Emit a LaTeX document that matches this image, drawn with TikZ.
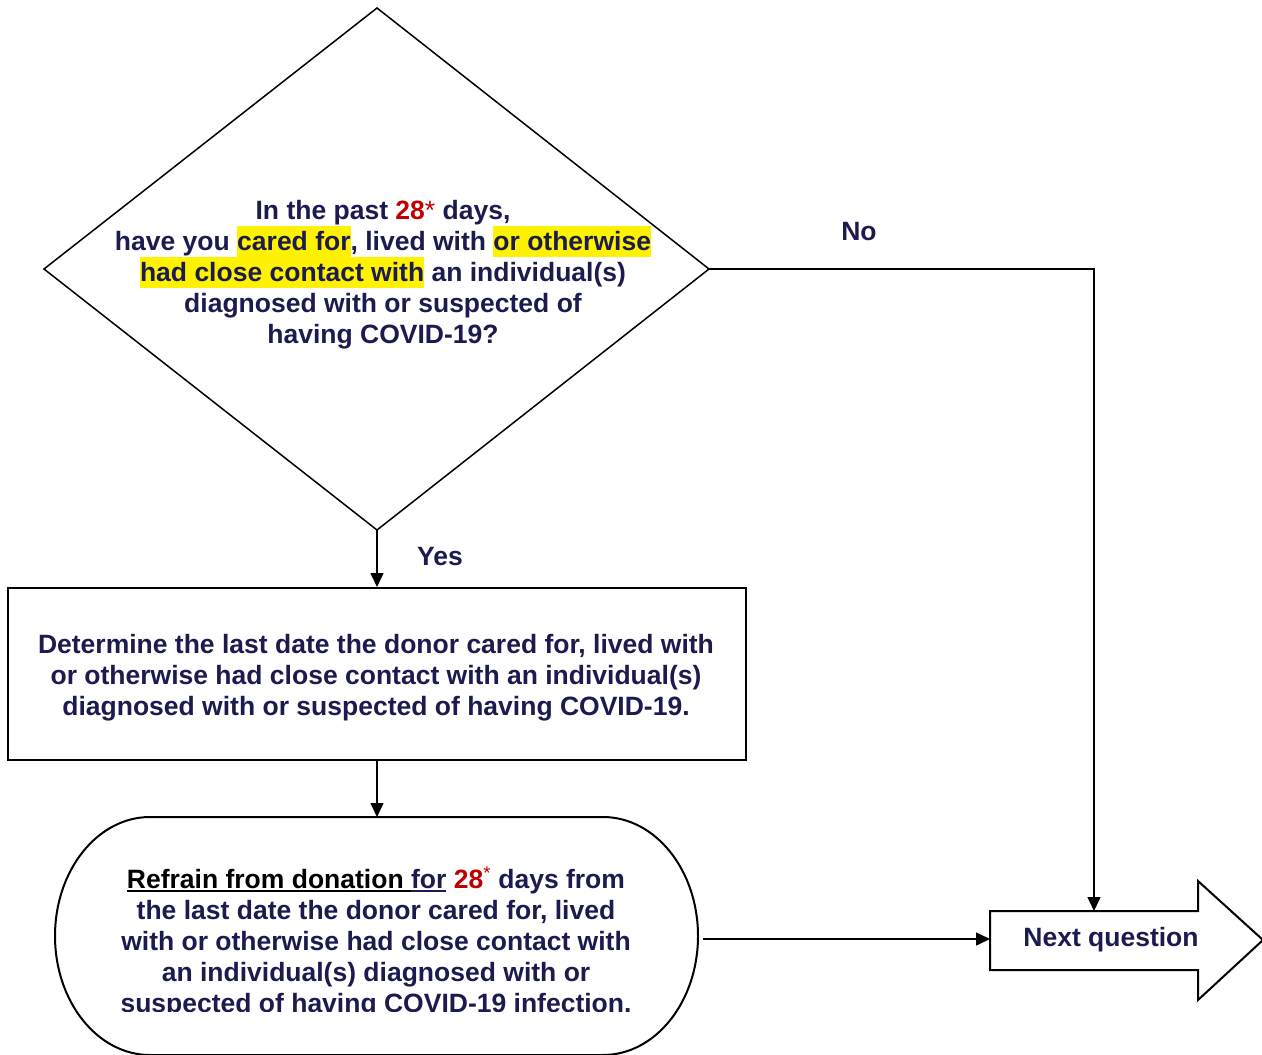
\documentclass[tikz,border=0pt]{standalone}
\usepackage{fontspec}
\setmainfont{Liberation Sans}
\usetikzlibrary{arrows.meta}
\definecolor{navy}{HTML}{1B1B4F}
\definecolor{darkred}{HTML}{C00000}
\newcommand\hlt[1]{{\setlength\fboxsep{0pt}\colorbox{yellow}{\rule[-6pt]{0pt}{31pt}#1}}}
\newcommand\ulbar[2]{\setbox0=\hbox{\textcolor{#1}{#2}}\relax\rlap{\textcolor{#1}{\rule[-4pt]{\wd0}{1.8pt}}}\box0\relax}
\begin{document}
\begin{tikzpicture}[x=1pt,y=-1pt,
  txt/.style={text=navy,font=\bfseries\fontsize{26.5}{31}\selectfont,align=center,inner sep=0pt,
    execute at begin node={\setlength{\lineskiplimit}{-20pt}}},
  arr/.style={line width=1.5pt,-{Triangle[length=14pt,width=13pt]}}]
\useasboundingbox (0,0) rectangle (1262,1055);
\clip (0,0) rectangle (1262,1055);
% decision diamond
\coordinate (dT) at (377,8);
\coordinate (dL) at (44,269);
\coordinate (dR) at (709,269);
\coordinate (dB) at (377,530);
\draw[line width=1.5pt,line join=miter] (dT)--(dR)--(dB)--(dL)--cycle;
\node[txt] (q) at (383,275) {In the past {\color{darkred}28{\mdseries*}} days,\\
have you \hlt{cared for}, lived with \hlt{or otherwise}\\
\hlt{had close contact with} an individual(s)\\
diagnosed with or suspected of\\
having COVID-19?};
% determine box
\node[draw=black,line width=2pt,minimum width=738pt,minimum height=172pt,inner sep=0pt] (det) at (377,674) {};
\node[txt] (dettxt) at (376,678)
{Determine the last date the donor cared for, lived with\\
or otherwise had close contact with an individual(s)\\
diagnosed with or suspected of having COVID-19.};
% terminator
\draw[line width=2pt] (150,817) -- (603,817)
  arc[start angle=-90,end angle=90,x radius=95,y radius=119]
  -- (150,1055)
  arc[start angle=90,end angle=270,x radius=95,y radius=119] -- cycle;
\coordinate (stT) at (377,817);
\coordinate (stOut) at (703,939);
\begin{scope}
\clip (0,0) rectangle (1262,1011);
\node[txt] (ref) at (376,942)
{\ulbar{black}{Refrain from donation }\ulbar{navy}{for} \textcolor{darkred}{28{\mdseries\textsuperscript{*}}} \textcolor{navy}{days from}\\
\textcolor{navy}{the last date the donor cared for, lived}\\
\textcolor{navy}{with or otherwise had close contact with}\\
\textcolor{navy}{an individual(s) diagnosed with or}\\
\textcolor{navy}{suspected of having COVID-19 infection.}};
\end{scope}
% next question arrow shape
\draw[line width=2pt] (990,911) -- (1198,911) -- (1198,881) -- (1263,940) -- (1198,1000) -- (1198,970) -- (990,970) -- cycle;
\coordinate (nqL) at (990,939);
\coordinate (nqT) at (1094,911);
\node[txt] (nq) at (1111,940) {Next question};
% connectors
\draw[arr] (dB) -- (det.north);
\draw[arr] (det.south) -- (stT);
\draw[arr] (dR) -| (nqT);
\draw[arr] (stOut) -- (nqL);
% labels
\node[txt] (yes) at (440,557) {Yes};
\node[txt] (no) at (859,232) {No};
\end{tikzpicture}
\end{document}
